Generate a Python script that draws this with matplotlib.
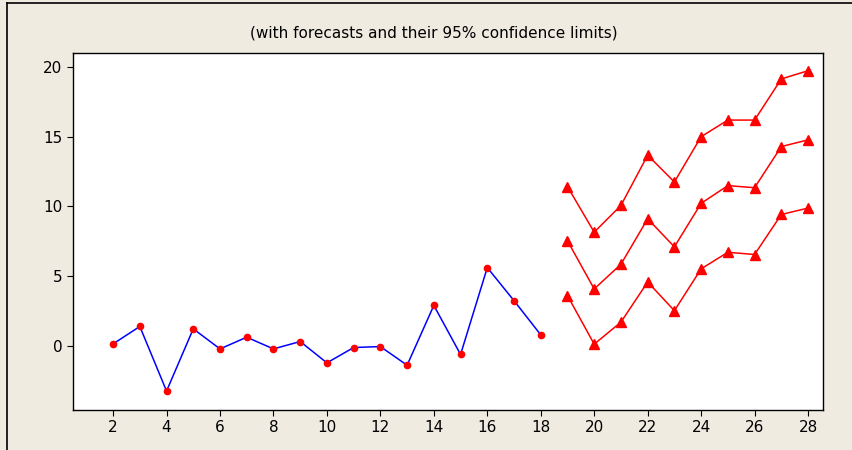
import matplotlib.pyplot as plt
from matplotlib.lines import Line2D

# observed series
obs_t = list(range(2, 19))
obs_y = [0.14, 1.39, -3.24, 1.22, -0.22, 0.62, -0.22, 0.31, -1.22,
         -0.12, -0.05, -1.39, 2.9, -0.62, 5.61, 3.24, 0.79]

# forecasts with 95% limits
fc_t = list(range(19, 29))
fc_upper = [11.42, 8.15, 10.07, 13.67, 11.75, 15.0, 16.19, 16.19, 19.14, 19.73]
fc_mid = [7.53, 4.08, 5.85, 9.11, 7.1, 10.22, 11.49, 11.34, 14.29, 14.77]
fc_lower = [3.6, 0.12, 1.7, 4.58, 2.52, 5.52, 6.71, 6.55, 9.42, 9.88]

xticks = list(range(2, 29, 2))
yticks = [0, 5, 10, 15, 20]

bg = "#efebe1"
fig = plt.figure(figsize=(8.52, 4.5), dpi=100, facecolor=bg)
ax = fig.add_axes([73 / 852, 1 - 410 / 450, 750 / 852, 357 / 450])
ax.set_facecolor("white")

ax.plot(obs_t, obs_y, color="blue", lw=1.1, zorder=2)
ax.plot(obs_t, obs_y, "o", color="red", ms=4.5, zorder=3)

for series in (fc_upper, fc_mid, fc_lower):
    ax.plot(fc_t, series, color="red", lw=1.1, marker="^", ms=7,
            markeredgecolor="red", markerfacecolor="red")

ax.set_xlim(0.5, 28.56)
ax.set_ylim(-4.6, 21.0)
ax.set_xticks(xticks)
ax.set_yticks(yticks)
ax.tick_params(direction="out", length=4, labelsize=11, top=False, right=False)
for s in ax.spines.values():
    s.set_linewidth(1.0)

fig.text(434 / 852, 1 - 33 / 450, "(with forecasts and their 95% confidence limits)",
         ha="center", va="center", fontsize=11)

# frame lines of the graph window
fig.add_artist(Line2D([7 / 852, 1], [1 - 3 / 450, 1 - 3 / 450], color="black", lw=1.2))
fig.add_artist(Line2D([7 / 852, 7 / 852], [0, 1 - 3 / 450], color="black", lw=1.2))

fig.savefig("out.png", dpi=100, facecolor=bg)
